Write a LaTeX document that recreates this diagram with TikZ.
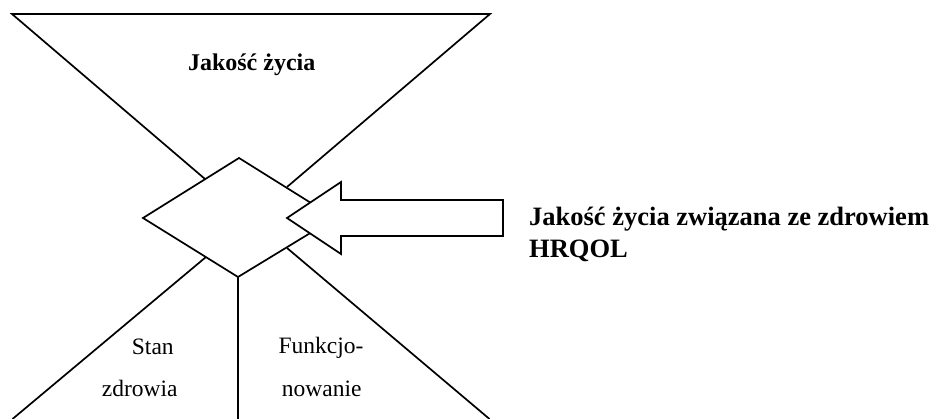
\documentclass[tikz,border=0pt]{standalone}
\usepackage{fontspec}
\setmainfont{Liberation Serif}
\begin{document}
\begin{tikzpicture}[x=1pt,y=-1pt,
  edge/.style={line width=1.7pt,line join=miter},
  heading/.style={font=\fontsize{24}{28}\selectfont\bfseries,inner sep=0pt,anchor=base},
  sidelabel/.style={font=\fontsize{26.5}{32}\selectfont\bfseries,inner sep=0pt,anchor=base west},
  partlabel/.style={font=\fontsize{23.5}{28}\selectfont,inner sep=0pt,anchor=base west}]
\useasboundingbox (0,0) rectangle (932,419);

% corner points of the outer figure
\coordinate (tl) at (12,14);
\coordinate (tr) at (490,14);
\coordinate (bl) at (12.5,419);
\coordinate (br) at (489.5,419);
\coordinate (bm) at (238,419);

% central diamond
\coordinate (dT) at (239,158);
\coordinate (dL) at (143,218);
\coordinate (dB) at (238,277);
\coordinate (dR) at (335,218);

% points where the outer lines meet the diamond
\coordinate (mUL) at (205,179);
\coordinate (mUR) at (287,187);
\coordinate (mLL) at (206,257);
\coordinate (mLR) at (287,248);

% upper inverted triangle
\draw[edge] (mUL) -- (tl) -- (tr) -- (mUR);
% lower fan
\draw[edge] (mLL) -- (bl);
\draw[edge] (mLR) -- (br);
\draw[edge] (dB) -- (bm);

\draw[edge] (dT) -- (dL) -- (dB) -- (dR) -- cycle;

% block arrow pointing into the diamond
\coordinate (aTip) at (287,218);
\coordinate (aHT) at (341,182);
\coordinate (aHB) at (341,254);
\coordinate (aST) at (341,200);
\coordinate (aSB) at (341,236);
\coordinate (aET) at (503,200);
\coordinate (aEB) at (503,236);
\draw[edge,fill=white] (aTip) -- (aHT) -- (aST) -- (aET) -- (aEB) -- (aSB) -- (aHB) -- cycle;

% labels
\node[heading] (qol) at (251.7,71) {Jakość życia};
\node[sidelabel] (hrq1) at (529,226) {Jakość życia związana ze zdrowiem};
\node[sidelabel] (hrq2) at (529,258) {HRQOL};
\node[partlabel] (st1) at (131.7,355) {Stan};
\node[partlabel] (st2) at (101.7,396.7) {zdrowia};
\node[partlabel] (fn1) at (278.3,353.3) {Funkcjo-};
\node[partlabel] (fn2) at (281.7,396.7) {nowanie};
\end{tikzpicture}
\end{document}
